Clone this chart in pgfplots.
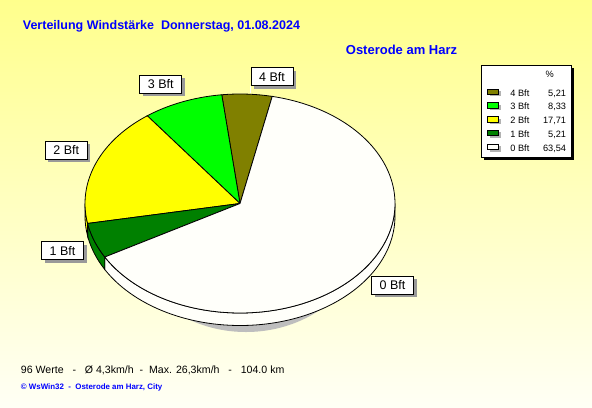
\documentclass[border=0pt]{standalone}
\usepackage{pgfplots}
\pgfplotsset{compat=1.18}
\usepackage{pgfplotstable}
\usepackage{fontspec}
\setmainfont{Liberation Sans}
\usetikzlibrary{shadows}

\definecolor{bgtop}{RGB}{255,255,140}
\definecolor{bgbot}{RGB}{255,255,245}
\definecolor{cOlive}{RGB}{128,128,0}
\definecolor{cGreen}{RGB}{0,255,0}
\definecolor{cYellow}{RGB}{255,255,0}
\definecolor{cDark}{RGB}{0,128,0}
\definecolor{cCream}{RGB}{255,255,250}
\definecolor{cShadow}{RGB}{190,190,190}
\definecolor{wsblue}{RGB}{0,0,255}

\pgfplotstableread{
label pct
4 5.21
3 8.33
2 17.71
1 5.21
0 63.54
}\windtable
\pgfplotstablegetelem{0}{pct}\of\windtable\let\pA\pgfplotsretval%
\pgfplotstablegetelem{1}{pct}\of\windtable\let\pB\pgfplotsretval%
\pgfplotstablegetelem{2}{pct}\of\windtable\let\pC\pgfplotsretval%
\pgfplotstablegetelem{3}{pct}\of\windtable\let\pD\pgfplotsretval%
\pgfplotstablegetelem{4}{pct}\of\windtable\let\pE\pgfplotsretval%
\pgfmathsetmacro\aA{78}%
\pgfmathsetmacro\aB{\aA+3.6*\pA}%
\pgfmathsetmacro\aC{\aB+3.6*\pB}%
\pgfmathsetmacro\aD{\aC+3.6*\pC}%
\pgfmathsetmacro\aE{\aD+3.6*\pD}%
\pgfmathsetmacro\aF{\aE+3.6*\pE}%
\def\cx{240}\def\cy{203.5}\def\rx{155}\def\ry{109.5}%
\tikzset{pielabel/.style={draw=black, fill=white, line width=0.8bp,
  drop shadow={shadow xshift=3bp, shadow yshift=-3bp, fill=gray!80, opacity=1},
  minimum width=42bp, minimum height=18bp, inner sep=0pt,
  font=\fontsize{12.5bp}{15bp}\selectfont, text height=9.2bp, text depth=0pt}}

\begin{document}
\begin{tikzpicture}
\begin{axis}[x=1bp, y=1bp, xmin=0, xmax=592, ymin=0, ymax=407,
  scale only axis, hide axis, ticks=none, clip=false,
  legend cell align=left,
  legend style={at={(axis cs:481,342)}, anchor=north west, draw=black, fill=white,
    line width=0.8bp,
    inner xsep=0pt, inner ysep=3bp, row sep=0pt, column sep=0pt,
    nodes={inner sep=0pt, text depth=, text height=},
    font=\fontsize{9.2bp}{11bp}\selectfont},
  legend image code/.code={
    \path[draw=none, fill=none] (0bp,0bp) -- (29bp,0bp);
    \fill[black!30, draw=none] (8.3bp,-3.95bp) rectangle (19.3bp,1.55bp);
    \draw[#1, draw=black, line width=0.8bp] (6.3bp,-1.95bp) rectangle (17.3bp,3.55bp);
  },
]
% background
\fill[top color=bgtop, bottom color=bgbot] (axis cs:0,0) rectangle (axis cs:592,407);
% legend shadow
\fill[black] (axis cs:484,339) rectangle (axis cs:573.7,246.7);
% pie shadow
\fill[cShadow] (axis cs:246,189) ellipse [x radius=125bp, y radius=114bp];
% sides
\addplot[forget plot, fill=cCream, draw=black, line width=0.8bp, domain=\aE:360, samples=60, variable=\t]
  ({\cx+\rx*cos(\t)}, {\cy+\ry*sin(\t)}) -- ++(0bp,-12.5bp)
  arc[start angle=360, end angle=\aE, x radius=155bp, y radius=109.5bp] -- cycle;
\addplot[forget plot, fill=cDark, draw=black, line width=0.8bp, domain=\aD:\aE, samples=20, variable=\t]
  ({\cx+\rx*cos(\t)}, {\cy+\ry*sin(\t)}) -- ++(0bp,-12.5bp)
  arc[start angle=\aE, end angle=\aD, x radius=155bp, y radius=109.5bp] -- cycle;
\addplot[forget plot, fill=cYellow, draw=black, line width=0.8bp, domain=180:\aD, samples=10, variable=\t]
  ({\cx+\rx*cos(\t)}, {\cy+\ry*sin(\t)}) -- ++(0bp,-12.5bp)
  arc[start angle=\aD, end angle=180, x radius=155bp, y radius=109.5bp] -- cycle;
% legend header
\addlegendimage{empty legend}
\addlegendentry{\rule[-8.2bp]{0pt}{17.2bp}\makebox[60.7bp][r]{\%\hspace{17.4bp}}}
% top sectors
\addplot[fill=cOlive, draw=black, line width=0.8bp, domain=\aA:\aB, samples=20, variable=\t]
  ({\cx+\rx*cos(\t)}, {\cy+\ry*sin(\t)}) -- (axis cs:\cx,\cy) -- cycle;
\addlegendentry{\rule[-3.3bp]{0pt}{13.8bp}\makebox[60.7bp][l]{4 Bft\hfill 5,21\hspace{5bp}}}
\addplot[fill=cGreen, draw=black, line width=0.8bp, domain=\aB:\aC, samples=25, variable=\t]
  ({\cx+\rx*cos(\t)}, {\cy+\ry*sin(\t)}) -- (axis cs:\cx,\cy) -- cycle;
\addlegendentry{\rule[-3.3bp]{0pt}{13.8bp}\makebox[60.7bp][l]{3 Bft\hfill 8,33\hspace{5bp}}}
\addplot[fill=cYellow, draw=black, line width=0.8bp, domain=\aC:\aD, samples=40, variable=\t]
  ({\cx+\rx*cos(\t)}, {\cy+\ry*sin(\t)}) -- (axis cs:\cx,\cy) -- cycle;
\addlegendentry{\rule[-3.3bp]{0pt}{13.8bp}\makebox[60.7bp][l]{2 Bft\hfill 17,71\hspace{5bp}}}
\addplot[fill=cDark, draw=black, line width=0.8bp, domain=\aD:\aE, samples=20, variable=\t]
  ({\cx+\rx*cos(\t)}, {\cy+\ry*sin(\t)}) -- (axis cs:\cx,\cy) -- cycle;
\addlegendentry{\rule[-3.3bp]{0pt}{13.8bp}\makebox[60.7bp][l]{1 Bft\hfill 5,21\hspace{5bp}}}
\addplot[fill=cCream, draw=black, line width=0.8bp, domain=\aE:\aF, samples=120, variable=\t]
  ({\cx+\rx*cos(\t)}, {\cy+\ry*sin(\t)}) -- (axis cs:\cx,\cy) -- cycle;
\addlegendentry{\rule[-3.3bp]{0pt}{13.8bp}\makebox[60.7bp][l]{0 Bft\hfill 63,54\hspace{5bp}}}
% leader line
\draw[white, line width=1bp] (axis cs:250.5,321) -- (axis cs:250.5,314);
% labels
\node[pielabel] at (axis cs:272,330.3) {4 Bft};
\node[pielabel] at (axis cs:160.8,322.8) {3 Bft};
\node[pielabel] at (axis cs:66.2,256.8) {2 Bft};
\node[pielabel] at (axis cs:62.5,156.2) {1 Bft};
\node[pielabel] at (axis cs:392.5,122) {0 Bft};
% texts
\node[anchor=base west, inner sep=0pt, text=wsblue, font=\bfseries\fontsize{12.5bp}{15bp}\selectfont]
  at (axis cs:22.7,377.5) {Verteilung Windstärke\ \ Donnerstag, 01.08.2024};
\node[anchor=base west, inner sep=0pt, text=wsblue, font=\bfseries\fontsize{13bp}{15bp}\selectfont]
  at (axis cs:345.7,352.5) {Osterode am Harz};
\node[anchor=base west, inner sep=0pt, text=black, font=\fontsize{10.6bp}{13bp}\selectfont]
  at (axis cs:20.7,33.7) {96 Werte\ \ \ -\ \ \ Ø 4,3km/h\ \ -\ \ Max. 26,3km/h\ \ \ -\ \ \ 104.0 km};
\node[anchor=base west, inner sep=0pt, text=wsblue, font=\bfseries\fontsize{7.9bp}{9bp}\selectfont]
  at (axis cs:20.7,18) {© WsWin32\ \ -\ \ Osterode am Harz, City};
\end{axis}
\end{tikzpicture}
\end{document}
